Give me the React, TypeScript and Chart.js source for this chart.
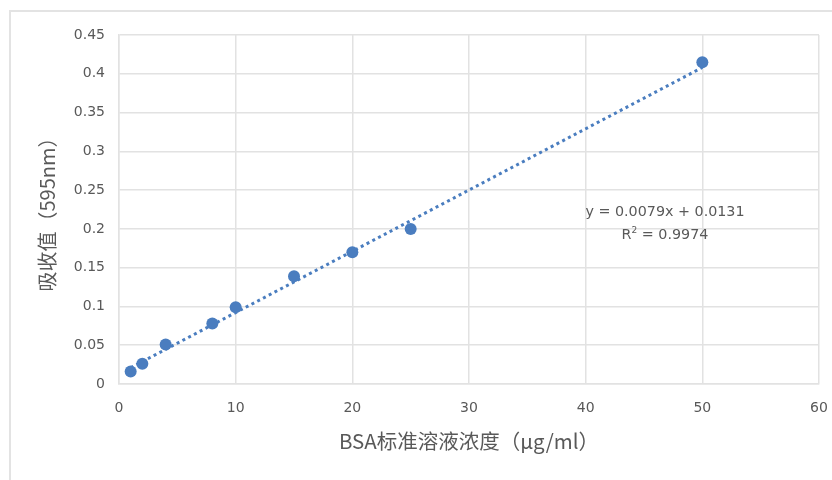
import React, { useEffect, useRef } from "react";
import { Chart, registerables } from "chart.js";

Chart.register(...registerables);

const concentrations = [1, 2, 4, 8, 10, 15, 20, 25, 50];
const absorbances = [0.016, 0.026, 0.051, 0.078, 0.099, 0.139, 0.17, 0.2, 0.415];
const yTickLabels = ["0", "0.05", "0.1", "0.15", "0.2", "0.25", "0.3", "0.35", "0.4", "0.45"];
const xTickLabels = ["0", "10", "20", "30", "40", "50", "60"];
const slope = 0.0079;
const intercept = 0.0131;
const equationText = "y = 0.0079x + 0.0131";
const r2Value = "0.9974";
const xTitle = "BSA标准溶液浓度（μg/ml）";
const yTitle = "吸收值（595nm）";

const BLUE = "#4a7dbf";
const GRID = "#e2e2e2";
const TEXT = "#595959";
const TICK_FONT = "'DejaVu Sans', sans-serif";
const CJK_FONT = "'Noto Sans CJK SC', 'Noto Sans', sans-serif";

export default function App() {
  const ref = useRef<HTMLCanvasElement>(null);
  useEffect(() => {
    const canvas = ref.current!;
    const points = concentrations.map((x, i) => ({ x, y: absorbances[i] }));
    const xMin = concentrations[0];
    const xMax = concentrations[concentrations.length - 1];
    const trend = [
      { x: xMin, y: slope * xMin + intercept },
      { x: xMax, y: slope * xMax + intercept },
    ];
    const framePlugin = {
      id: "frame",
      beforeDraw(chart: any) {
        const c = chart.ctx;
        c.save();
        c.fillStyle = "#ffffff";
        c.fillRect(0, 0, chart.width, chart.height);
        c.strokeStyle = "#e3e3e3";
        c.lineWidth = 2;
        c.beginPath();
        c.moveTo(10, chart.height);
        c.lineTo(10, 11);
        c.lineTo(chart.width, 11);
        c.stroke();
        c.restore();
      },
      afterDatasetsDraw(chart: any) {
        const c = chart.ctx;
        const xs = chart.scales.x;
        const ys = chart.scales.y;
        const cx = xs.getPixelForValue(46.8);
        const y1 = ys.getPixelForValue(0.224) + 2;
        const y2 = ys.getPixelForValue(0.194) + 2;
        c.save();
        c.fillStyle = TEXT;
        c.textBaseline = "middle";
        c.textAlign = "center";
        c.font = `14.3px ${TICK_FONT}`;
        c.fillText(equationText, cx, y1);
        const rest = " = " + r2Value;
        const wR = c.measureText("R").width;
        c.font = `9px ${TICK_FONT}`;
        const w2 = c.measureText("2").width;
        c.font = `14.3px ${TICK_FONT}`;
        const wRest = c.measureText(rest).width;
        const total = wR + w2 + wRest;
        const x0 = cx - total / 2;
        c.textAlign = "left";
        c.fillText("R", x0, y2);
        c.font = `9px ${TICK_FONT}`;
        c.fillText("2", x0 + wR, y2 - 5);
        c.font = `14.3px ${TICK_FONT}`;
        c.fillText(rest, x0 + wR + w2, y2);
        c.restore();
      },
    };
    const chart = new Chart(canvas, {
      type: "scatter",
      data: {
        datasets: [
          {
            type: "line",
            label: "trend",
            data: trend,
            borderColor: BLUE,
            borderWidth: 3,
            borderDash: [3, 3.5],
            pointRadius: 0,
            fill: false,
            order: 2,
          } as any,
          {
            label: "BSA",
            data: points,
            backgroundColor: BLUE,
            borderColor: BLUE,
            pointRadius: 6,
            pointBorderWidth: 0,
            order: 1,
          },
        ],
      },
      options: {
        responsive: false,
        animation: false,
        layout: { padding: { left: 0, top: 35, right: 13, bottom: 0 } },
        plugins: { legend: { display: false }, tooltip: { enabled: false } },
        scales: {
          x: {
            type: "linear",
            min: 0,
            max: 60,
            afterFit(scale: any) {
              scale.height = 96;
              scale.paddingLeft = 0;
              scale.paddingRight = 0;
            },
            ticks: {
              stepSize: 10,
              padding: 16,
              color: TEXT,
              font: { family: TICK_FONT, size: 14 },
              callback: (_v: any, i: number) => xTickLabels[i],
            },
            grid: { color: GRID, lineWidth: 1.5, drawTicks: false },
            border: { display: true, color: GRID, width: 1.5 },
            title: {
              display: true,
              text: xTitle,
              color: TEXT,
              font: { family: CJK_FONT, size: 20.5 },
              padding: { top: 0, bottom: 26 },
            },
          },
          y: {
            type: "linear",
            min: 0,
            max: 0.45,
            afterFit(scale: any) {
              scale.width = 119;
              scale.paddingTop = 0;
              scale.paddingBottom = 0;
            },
            ticks: {
              stepSize: 0.05,
              padding: 14,
              color: TEXT,
              font: { family: TICK_FONT, size: 14 },
              callback: (_v: any, i: number) => yTickLabels[i],
            },
            grid: { color: GRID, lineWidth: 1.5, drawTicks: false },
            border: { display: true, color: GRID, width: 1.5 },
            title: {
              display: true,
              text: yTitle,
              color: TEXT,
              font: { family: CJK_FONT, size: 20 },
              padding: { top: 35, bottom: 0 },
            },
          },
        },
      },
      plugins: [framePlugin],
    });
    return () => chart.destroy();
  }, []);
  return (
    <div style={{ position: "fixed", left: 0, top: 0, width: 832, height: 480, background: "#fff" }}>
      <canvas ref={ref} width={832} height={480} style={{ display: "block", width: 832, height: 480 }} />
    </div>
  );
}
